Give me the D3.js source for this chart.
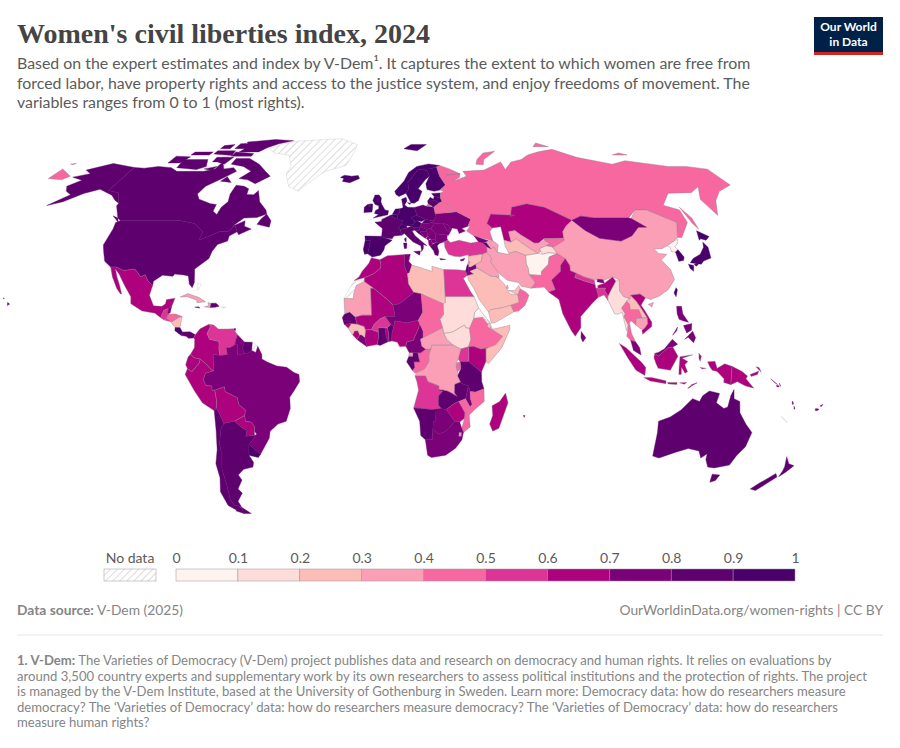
<!DOCTYPE html>
<html>
<head>
<meta charset="utf-8">
<script src="https://cdn.jsdelivr.net/npm/d3@7"></script>
<style>
  body { margin: 0; background: #fff; }
  text { font-family: Lato, "Noto Sans", sans-serif; }
</style>
</head>
<body>
<div class="chart"></div>
<script>
// index values, by region
var northAmerica = [["Canada", .85], ["USA", .85], ["Alaska", .85], ["Hawaii", .85], ["Mexico", .65], ["Guatemala", .55], ["Belize", .75], ["Honduras", .45], ["El Salvador", .55], ["Nicaragua", .25], ["Costa Rica", .92], ["Panama", .85], ["Cuba", .35], ["Haiti", .3], ["Dominican Rep", .8], ["Jamaica", .85], ["Trinidad", .85]];
var southAmerica = [["Colombia", .65], ["Venezuela", .55], ["Guyana", .75], ["Suriname", .85], ["Brazil", .78], ["Ecuador", .65], ["Peru", .65], ["Bolivia", .65], ["Paraguay", .65], ["Argentina", .85], ["Chile", .85], ["Uruguay", .92]];
var africa = [["Morocco", .65], ["Algeria", .65], ["Tunisia", .75], ["Libya", .25], ["Egypt", .55], ["Sudan", .12], ["South Sudan", .15], ["Eritrea", .05], ["Ethiopia", .45], ["Somalia", .25], ["Djibouti", .25], ["Kenya", .65], ["Uganda", .55], ["Tanzania", .85], ["DRC", .35], ["Rwanda", .45], ["Burundi", .45], ["Congo", .45], ["Gabon", .85], ["Eq Guinea", .3], ["Cameroon", .75], ["Nigeria", .65], ["Benin", .85], ["Togo", .65], ["Ghana", .85], ["Ivory Coast", .65], ["Liberia", .75], ["Sierra Leone", .65], ["Guinea", .25], ["Guinea-Bissau", .65], ["Senegal", .85], ["Gambia", .75], ["Mauritania", .35], ["Mali", .65], ["Burkina Faso", .55], ["Niger", .75], ["Chad", .45], ["CAR", .35], ["Angola", .55], ["Zambia", .8], ["Malawi", .75], ["Mozambique", .45], ["Zimbabwe", .65], ["Botswana", .78], ["Namibia", .85], ["South Africa", .78], ["Lesotho", .75], ["Eswatini", .3], ["Madagascar", .65], ["Mauritius", .85]];
var europe = [["Iceland", .92], ["Ireland", .92], ["UK", .9], ["Portugal", .92], ["Spain", .9], ["France", .88], ["Belgium", .92], ["Netherlands", .92], ["Germany", .93], ["Denmark", .95], ["Switzerland", .93], ["Austria", .9], ["Italy", .88], ["Czechia", .9], ["Slovakia", .85], ["Poland", .82], ["Hungary", .75], ["Slovenia", .88], ["Croatia", .85], ["Bosnia", .75], ["Serbia", .75], ["Montenegro", .75], ["Albania", .75], ["North Macedonia", .75], ["Greece", .82], ["Bulgaria", .78], ["Romania", .78], ["Moldova", .78], ["Ukraine", .75], ["Lithuania", .88], ["Latvia", .9], ["Estonia", .92], ["Norway", .93], ["Sweden", .93], ["Finland", .93], ["Cyprus", .85]];
var asia = [["Russia", .45], ["Belarus", .45], ["Kazakhstan", .65], ["Uzbekistan", .35], ["Turkmenistan", .25], ["Kyrgyzstan", .45], ["Tajikistan", .15], ["Afghanistan", .05], ["Pakistan", .45], ["China", .35], ["India", .65], ["Nepal", .55], ["Bhutan", .75], ["Bangladesh", .55], ["Sri Lanka", .75], ["Mongolia", .78], ["North Korea", .05], ["South Korea", .92], ["Japan", .95], ["Taiwan", .92], ["Myanmar", .15], ["Thailand", .45], ["Laos", .25], ["Cambodia", .35], ["Vietnam", .65], ["Malaysia", .75], ["Indonesia", .65], ["Philippines", .7], ["Timor-Leste", .75], ["Turkey", .52], ["Syria", .25], ["Lebanon", .35], ["Israel", .82], ["Jordan", .72], ["Iraq", .35], ["Iran", .35], ["Saudi Arabia", .25], ["Yemen", .22], ["Oman", .45], ["UAE", .25], ["Qatar", .3], ["Kuwait", .3], ["Georgia", .75], ["Armenia", .82], ["Azerbaijan", .35]];
var oceania = [["Australia", .85], ["New Zealand", .88], ["Papua New Guinea", .65], ["Solomon Islands", .75], ["Vanuatu", .8], ["Fiji", .75]];
var noData = ["Greenland", "Western Sahara", "French Guiana", "New Caledonia", "Puerto Rico", "Bahamas"];

var binEdges = [.1, .2, .3, .4, .5, .6, .7, .8, .9];
var binColors = ["#fff3ef", "#fddcd9", "#fcbdb8", "#fa9fb5", "#f768a1", "#dd3497", "#ae017e", "#7a0177", "#5f006f", "#49006a"];
var legendTicks = [0, .1, .2, .3, .4, .5, .6, .7, .8, .9, 1];

var subtitleLines = [
    "Based on the expert estimates and index by V-Dem\u00b9. It captures the extent to which women are free from",
    "forced labor, have property rights and access to the justice system, and enjoy freedoms of movement. The",
    "variables ranges from 0 to 1 (most rights)."
];
var footnoteLines = [
    "The Varieties of Democracy (V-Dem) project publishes data and research on democracy and human rights. It relies on evaluations by",
    "around 3,500 country experts and supplementary work by its own researchers to assess political institutions and the protection of rights. The project",
    "is managed by the V-Dem Institute, based at the University of Gothenburg in Sweden. Learn more: Democracy data: how do researchers measure",
    "democracy? The \u2018Varieties of Democracy\u2019 data: how do researchers measure democracy? The \u2018Varieties of Democracy\u2019 data: how do researchers",
    "measure human rights?"
];

// rough country outlines as "lon,lat" rings
var outlines = {
    "Greenland": ["-73,78 -60,82 -30,83.5 -18,80 -20,74 -22,70.5 -33,68 -42,62 -44,60 -50,62 -54,67 -53,70 -58,75 -68,76"],
    "Canada": ["-141,69.6 -135,69.3 -128,70 -120,69.5 -115,68 -108,68 -100,68 -95,69 -94,72 -90,69 -85,69.5 -82,68 -87,65 -93,62 -94.5,59 -92,57 -85,55.3 -82,55 -82,52.5 -79.5,51.3 -79,54 -77,56 -78,59 -77.5,62.4 -73,62 -70,61 -69.5,58.8 -66,58.7 -64.5,60.3 -61.5,56 -57,53 -56,51.5 -60,50.2 -66,50 -70,47 -65,49 -64.5,47 -61,46 -66,44 -67,45 -69,47.3 -71,45.2 -75,45 -79,43.4 -83,42 -82.5,45 -88,48 -95,49 -109,49 -123,49 -125,50 -130,54.5 -130,55.5 -135,59.5 -141,60.3",
        "-62,66 -68,63 -73,64.5 -78,65 -74,68 -80,70 -88,71 -88,73.5 -80,73.5 -72,71 -66,68",
        "-117,69.5 -105,68.7 -101,70 -104,73 -118,73", "-125,71.5 -118,71.5 -116,74.2 -125,74.5",
        "-90,76.5 -78,76.5 -75,78.5 -62,82.3 -75,83 -92,81.5 -88,79", "-92,74.5 -80,74.5 -80,75.7 -92,76.5",
        "-87,64 -81,63.5 -85,65.8", "-59,47.7 -53,46.7 -53,49 -56,51.5 -58,49.5", "-128,50.8 -123.5,48.4 -125,50",
        "-117,75 -106,75 -106,76.5 -117,76.4", "-100,72 -93,72 -93,74 -100,74", "-104,78 -98,78 -98,80 -104,79.5",
        "-97,72 -92,71 -90,74 -97,74", "-101,69 -96,68.3 -95,70", "-104,75.5 -92,74.8 -93,77 -104,77", "-95,78 -87,78 -87,81 -95,80.5"],
    "USA": ["-123,49 -109,49 -95,49 -88,48 -82.5,45 -83,42 -79,43.4 -75,45 -71,45.2 -69,47.3 -67,45 -70,43.5 -70,41.7 -74,40.5 -75.5,38 -76,35.5 -81,31.8 -80,27 -80.5,25.2 -82,26.5 -83,29.3 -85,29.7 -89,30 -89.5,29.2 -94,29.6 -97.3,27.5 -97.2,25.9 -99.5,27.5 -101.4,29.8 -103,29 -106.5,31.8 -111,31.3 -114.8,32.5 -117.1,32.5 -120.5,34.5 -122.5,37.5 -124.3,40.3 -124,46 -124.7,48.4"],
    "Alaska": ["-141,69.6 -141,60.3 -135,59.5 -130,55.5 -133,56.5 -137,58.5 -146,60.8 -152,59.2 -158,56 -164,54.6 -158,58.7 -162,60 -165,62 -161,64.4 -168,65.6 -161,67 -166,68.5 -156,71.3"],
    "Hawaii": ["-156,20 -155,19.4 -155.8,18.9 -156,19.7", "-158.3,21.6 -157.7,21.3 -158,21.2"],
    "Mexico": ["-117.1,32.5 -114.8,32.5 -111,31.3 -106.5,31.8 -103,29 -101.4,29.8 -99.5,27.5 -97.2,25.9 -97.8,22.5 -95.5,18.8 -92,18.6 -90.7,19.5 -90.5,21 -87,21.5 -88,18.5 -89.2,17.8 -91,17.2 -92,14.6 -94.5,16.2 -100,17 -105,19.5 -105.5,22 -109,26 -112.5,30 -114.7,31.7 -113,29 -111,26 -109.5,23 -110,23 -112,25 -115,29"],
    "Guatemala": ["-92,14.6 -91,17.2 -89.2,17.8 -89.2,15.9 -88.5,15.8 -89.5,14.3 -90.5,13.8"],
    "Belize": ["-89.2,17.8 -88,18.5 -88.3,16.3 -89.2,15.9"],
    "Honduras": ["-89.2,15.9 -88.5,15.8 -86,15.9 -83.2,15 -84.7,14.6 -87.3,13 -88.5,13.8 -89.5,14.3"],
    "El Salvador": ["-89.5,14.3 -88.5,13.8 -87.7,13.2 -90.5,13.8"],
    "Nicaragua": ["-83.2,15 -83.7,11 -85.7,11.1 -87.5,12.9 -84.7,14.6"],
    "Costa Rica": ["-83.7,11 -82.6,9.5 -83,8.3 -85.7,10 -85.7,11.1"],
    "Panama": ["-82.6,9.5 -79.5,9.6 -77.3,8.6 -78,7.4 -80,7.3 -81,8 -83,8.3"],
    "Cuba": ["-85,21.9 -82,23.1 -77,21.7 -74.2,20.2 -77.7,19.9 -78,20.8 -82,22"],
    "Haiti": ["-74.5,18.4 -72,18.2 -71.8,19.7 -73.2,19.9 -72.7,18.9"],
    "Dominican Rep": ["-71.8,19.7 -72,18.2 -70,18.3 -68.4,18.6 -69.8,19.7"],
    "Jamaica": ["-78.4,18.3 -76.2,18 -77,18.5"],
    "Puerto Rico": ["-67.2,18.5 -65.6,18.4 -66,18 -67.2,18"],
    "Bahamas": ["-78.5,26.8 -77,26.5 -77.5,25 -78.2,24.2"],
    "Trinidad": ["-61.9,10.1 -61,10.1 -61,10.8 -61.7,10.7"],
    "Colombia": ["-77.3,8.6 -75.5,10.7 -72,12.3 -71.3,11.5 -72.5,9 -71.5,7 -67.5,6.2 -67.5,3.5 -67,1.2 -69.8,1.7 -69.5,-4.2 -70.7,-3.7 -72,-2.4 -75,0 -77.5,0.4 -79,1.7 -77.5,4 -77.5,7 -78,7.4"],
    "Venezuela": ["-71.3,11.5 -72,12.3 -70,12 -68,10.6 -64,10.6 -62,10.7 -60,8.5 -60.7,6.8 -61,5 -63,4 -64.5,4 -64,1.5 -67,1.2 -67.5,3.5 -67.5,6.2 -71.5,7 -72.5,9"],
    "Guyana": ["-60,8.5 -57.2,6 -58,4 -57,2 -59.8,1.3 -60,5 -61,5 -60.7,6.8"],
    "Suriname": ["-57.2,6 -54,5.9 -54.2,3 -55.5,2.1 -57,2 -58,4"],
    "French Guiana": ["-54,5.9 -51.7,4.5 -52.5,2.3 -54.2,3"],
    "Brazil": ["-60,5 -59.8,1.3 -57,2 -55.5,2.1 -54.2,3 -52.5,2.3 -51.7,4.5 -50,1.5 -50,0 -48,-1 -44,-2.5 -40,-2.9 -37,-4.8 -35,-5.5 -34.8,-8 -37,-11 -39,-13.5 -39,-17.5 -41,-22 -44.5,-23 -48,-25.5 -48.7,-28 -53.4,-33.7 -57.6,-30.2 -53.7,-26.6 -54.5,-25.5 -54.3,-24 -55.5,-22.3 -57.9,-22 -58,-20 -57.5,-18 -60,-16.2 -60.5,-13.7 -65.3,-11.5 -65.5,-9.8 -69.5,-11 -70.6,-11 -70.6,-9.5 -73,-9.4 -74,-7.3 -73,-5 -70,-4.2 -69.5,-4.2 -69.8,1.7 -67,1.2 -64,1.5 -64.5,4 -63,4 -61,5"],
    "Ecuador": ["-79,1.7 -77.5,0.4 -75,0 -75.5,-1.5 -78.5,-4.5 -80.3,-3.4 -81,-2 -80,0.7"],
    "Peru": ["-80.3,-3.4 -78.5,-4.5 -75.5,-1.5 -75,0 -72,-2.4 -70.7,-3.7 -69.5,-4.2 -70,-4.2 -73,-5 -74,-7.3 -73,-9.4 -70.6,-9.5 -70.6,-11 -69.5,-11 -69,-15 -69.5,-17.5 -70.4,-18.3 -75,-15.5 -78,-11 -81.3,-5.5"],
    "Bolivia": ["-69.5,-11 -65.5,-9.8 -65.3,-11.5 -60.5,-13.7 -60,-16.2 -57.5,-18 -58,-20 -62.5,-22 -67,-22.8 -68.5,-19 -69.5,-17.5 -69,-15"],
    "Paraguay": ["-62.5,-22 -58,-20 -57.9,-22 -55.5,-22.3 -54.3,-24 -54.5,-25.5 -54.7,-27 -58.5,-27.3 -57.7,-25.3 -60,-24"],
    "Argentina": ["-67,-22.8 -62.5,-22 -60,-24 -57.7,-25.3 -58.5,-27.3 -54.7,-27 -53.7,-26.6 -57.6,-30.2 -58.4,-34 -57,-36.5 -57.7,-38.2 -62,-39 -65,-41 -64,-42.8 -67,-46 -65.7,-47.5 -69,-50.5 -68.5,-52.3 -71.5,-52 -72.3,-50 -71.5,-44 -71.5,-39 -70,-34 -70,-30 -68.5,-25", "-68.6,-52.6 -65,-55 -68.6,-55"],
    "Chile": ["-69.5,-17.5 -68.5,-19 -67,-22.8 -68.5,-25 -70,-30 -70,-34 -71.5,-39 -71.5,-44 -72.3,-50 -71.5,-52 -68.5,-52.3 -71,-54 -74.5,-52 -75.5,-47 -73.5,-42 -73.5,-37 -71.5,-32 -70.5,-25 -70.4,-18.3", "-68.6,-52.6 -68.6,-55 -72,-54"],
    "Uruguay": ["-57.6,-30.2 -53.4,-33.7 -54.5,-34.8 -58.4,-34"],
    "Morocco": ["-5.9,35.8 -2.2,35.1 -1.7,33 -2,32 -5,30 -8.7,28.7 -13,27.7 -11,29 -9.7,31 -7,33.7"],
    "Western Sahara": ["-8.7,27.7 -13,27.7 -17,21.4 -13,21.3 -13,23 -12,26"],
    "Algeria": ["-2.2,35.1 1,36.5 8.6,36.9 8.3,33 9.5,30.2 9.9,26.5 12,23.5 6,19.5 3.3,19 1,21 -4.8,25 -8.7,27.3 -8.7,28.7 -5,30 -2,32 -1.7,33"],
    "Tunisia": ["8.6,36.9 11,37 10.2,34.5 11.5,33.2 10.3,30.5 9.5,30.2 8.3,33"],
    "Libya": ["11.5,33.2 15,32.3 20,30.9 20,32.8 25,31.6 25,20 24,19.5 15,23 12,23.5 9.9,26.5 9.5,30.2 10.3,30.5"],
    "Egypt": ["25,31.6 31,31.5 34.3,31.2 34.8,29.5 33,28.5 35.5,24 37,22 25,22"],
    "Sudan": ["25,22 37,22 38.6,18 36.9,16.5 36.4,14.3 34.5,10.8 33,11 32.5,12 27.5,9.5 24,9 23.5,11 22.5,14 24,15.7 24,19.5 25,20"],
    "South Sudan": ["24,9 27.5,9.5 32.5,12 33,11 34.5,10.8 35,7 34,4.3 30.8,3.5 27.5,5 25,7"],
    "Eritrea": ["36.4,14.3 36.9,16.5 38.6,18 43,12.7 40,14.7 37,14.4"],
    "Ethiopia": ["36.4,14.3 37,14.4 40,14.7 42.8,11.6 42.9,10.9 48,8 45,5 41.9,4 39,3.5 36,4.5 34,4.3 35,7 34.5,10.8"],
    "Somalia": ["43.3,11.5 44,10.5 51,11.9 51,10.5 47.5,4 42,-1.7 41,-0.9 41,3.9 41.9,4 45,5 48,8 42.9,10.9"],
    "Djibouti": ["43,12.7 43.3,11.5 42.9,10.9 41.8,11.2 42,12.5"],
    "Kenya": ["34,4.3 36,4.5 39,3.5 41.9,4 41,3.9 41,-0.9 39.2,-4.7 34,-1 34,1"],
    "Uganda": ["30.8,3.5 34,4.3 34,1 34,-1 30.5,-1 29.7,0"],
    "Tanzania": ["30.5,-1 34,-1 39.2,-4.7 39.4,-8 40.4,-10.5 37,-11.7 34.8,-11.5 34,-9.5 31,-8.6 29.5,-6 30.8,-3.5"],
    "DRC": ["18.6,3.5 19,5 25,5 27.5,5 30.8,3.5 29.7,0 29,-1.4 29,-2.8 29.5,-4.4 29.5,-6 31,-8.6 30.7,-8.2 28.5,-9 28.5,-12 29.8,-13.4 27,-12 25.3,-11.3 22,-11 22,-9.5 17.5,-8 16.5,-6 12.2,-6 13,-4.7 16,-3.5 17.8,-1 17.8,1.5"],
    "Rwanda": ["29,-1.4 30.5,-1 30.8,-2.3 29,-2.8"],
    "Burundi": ["29,-2.8 30.8,-2.3 30.8,-3.5 29.5,-4.4"],
    "Congo": ["11.1,-4 12.2,-5 13,-4.7 16,-3.5 17.8,-1 17.8,1.5 18.6,3.5 16.5,3.5 14.5,2.2 13.2,2.2 14,-1 11.7,-1 12,-3"],
    "Gabon": ["9.7,1 11.3,1 11.3,2.3 13.2,2.2 14,-1 11.7,-1 12,-3 11.1,-4 8.8,-1"],
    "Eq Guinea": ["9.7,1 11.3,1 11.3,2.3 9.8,2.3"],
    "Cameroon": ["8.5,4.5 9.8,2.3 11.3,2.3 13.2,2.2 14.5,2.2 16.5,3.5 15,4.5 14.4,7 15.5,7.5 15.5,9.9 14.2,12.5 13.7,10.9 11.5,6.6 8.8,6"],
    "Nigeria": ["2.7,6.4 5,5.9 6,4.3 8.5,4.5 8.8,6 11.5,6.6 13.7,10.9 14.2,12.5 13.6,13.7 9,12.8 4,13.5 3.6,11.7 2.8,9"],
    "Benin": ["1.6,6.2 2.7,6.4 2.8,9 3.6,11.7 2.4,12.2 0.9,11 1.5,9"],
    "Togo": ["1.2,6.1 1.6,6.2 1.5,9 0.9,11 -0.1,11 0.4,8"],
    "Ghana": ["-3.1,5.1 -2,4.8 1.2,6.1 0.4,8 -0.1,11 -2.8,11 -2.6,8"],
    "Ivory Coast": ["-7.5,4.4 -3.1,5.1 -2.6,8 -2.8,9.5 -5.5,10.4 -8,10.3 -8.2,7.6"],
    "Liberia": ["-11.4,6.9 -7.5,4.4 -8.2,7.6 -9.5,8.5 -10.3,8.5"],
    "Sierra Leone": ["-13.2,8.5 -11.4,6.9 -10.3,8.5 -11,10 -12.5,9.9"],
    "Guinea": ["-15,10.8 -13.2,8.5 -12.5,9.9 -11,10 -10.3,8.5 -9.5,8.5 -8.2,7.6 -8,10.3 -8.5,11.5 -11,12.2 -13.7,12.6"],
    "Guinea-Bissau": ["-16.7,12.3 -13.7,12.6 -15,10.9"],
    "Senegal": ["-17.5,14.7 -16.5,16 -14.5,16.6 -12.2,14.8 -11.5,12.4 -13.7,12.6 -16.7,12.3"],
    "Gambia": ["-16.8,13.6 -14,13.6 -14,13.2 -16.8,13.2"],
    "Mauritania": ["-17,21.4 -13,21.3 -13,23 -12,26 -8.7,27.3 -4.8,25 -6,25 -5.5,15.5 -9.3,15.5 -12.2,14.8 -14.5,16.6 -16.5,16"],
    "Mali": ["-12.2,14.8 -9.3,15.5 -5.5,15.5 -6,25 -4.8,25 1,21 3.3,19 4.2,15 0.2,15 -2,14.2 -4.5,12.2 -5.5,10.4 -8,10.3 -8.5,11.5 -11.5,12.4"],
    "Burkina Faso": ["-5.5,10.4 -2.8,9.5 -2.8,11 -0.1,11 0.9,11 2.4,12.2 0.2,15 -2,14.2 -4.5,12.2"],
    "Niger": ["0.2,15 2.4,12.2 3.6,11.7 4,13.5 9,12.8 13.6,13.7 15.5,16.5 15,23 12,23.5 6,19.5 3.3,19 4.2,15"],
    "Chad": ["14.2,12.5 15.5,9.9 15.5,7.5 19,9 23.5,11 22.5,14 24,15.7 24,19.5 15,23 15.5,16.5 13.6,13.7"],
    "CAR": ["14.4,7 15,4.5 16.5,3.5 18.6,3.5 19,5 25,5 27.5,5 25,7 24,9 23.5,11 19,9 15.5,7.5"],
    "Angola": ["12.2,-6 16.5,-6 17.5,-8 22,-9.5 22,-11 24,-11 22,-13 22,-16.3 23.4,-17.6 20,-17.9 13.5,-17.4 11.8,-17.3 13.7,-11 13,-8"],
    "Zambia": ["22,-11 25.3,-11.3 27,-12 29.8,-13.4 28.5,-12 28.5,-9 30.7,-8.2 31,-8.6 34,-9.5 33,-14 30.2,-15 28,-16 25.3,-17.8 23.4,-17.6 22,-16.3 22,-13 24,-11"],
    "Malawi": ["34,-9.5 34.8,-11.5 35,-14 35.8,-16 35,-17 33,-14"],
    "Mozambique": ["40.4,-10.5 40.7,-15 37,-17.8 34.8,-19.8 35.5,-24 32.8,-26 32,-24.5 32.9,-21 33,-19 30.2,-15 33,-14 35,-17 35.8,-16 35,-14 34.8,-11.5 37,-11.7"],
    "Zimbabwe": ["25.3,-17.8 28,-16 30.2,-15 33,-19 32.9,-21 31,-22.3 29,-22 27.5,-20.5"],
    "Botswana": ["20,-17.9 23.4,-17.6 25.3,-17.8 27.5,-20.5 29,-22 26.5,-24.6 25,-25.7 22.5,-26.5 20,-24.8 20,-22 21,-22 21,-18.3"],
    "Namibia": ["11.8,-17.3 13.5,-17.4 20,-17.9 23.4,-17.6 21,-18.3 21,-22 20,-22 20,-28.4 17,-28.5 15,-27 14.4,-22"],
    "South Africa": ["17,-28.5 20,-28.4 20,-24.8 22.5,-26.5 25,-25.7 26.5,-24.6 29,-22 31,-22.3 32,-24.5 32.8,-26 32.4,-28.5 30,-31.5 26,-34 20,-34.8 18.3,-34"],
    "Lesotho": ["27,-29.6 29,-28.7 29.4,-29.8 28,-30.6"],
    "Eswatini": ["31,-26 32,-26 32,-27.3 31,-27.3"],
    "Madagascar": ["49.3,-12 50.5,-15.5 47.5,-24.5 45,-25.5 43.5,-23 44.5,-20 44,-16.5 47,-15"],
    "Mauritius": ["57.2,-20 57.9,-20 57.6,-20.6"],
    "Iceland": ["-24,65.5 -22,66.4 -18,66 -14.5,66.3 -13.6,65 -18.5,63.4 -22.5,63.9 -22,65"],
    "Ireland": ["-10,52 -6.2,52.2 -6,53.5 -6,54 -8,54.3 -7,55.2 -8.5,55 -10,54"],
    "UK": ["-5.5,50 1.3,51.2 1.7,52.7 0,53 -1.5,55 -2,56 -1.8,57.5 -3,58.6 -5,58.6 -6,56.5 -4.8,55 -3,54.5 -3,53.4 -4.5,52.8 -5,51.7 -3,51.3", "-6,55.2 -6,54 -8,54.3 -7,55.2"],
    "Portugal": ["-9.5,38.7 -8.9,37 -7.5,37.2 -7,39.5 -6.5,41.8 -8.8,42"],
    "Spain": ["-8.8,42 -6.5,41.8 -7,39.5 -7.5,37.2 -5.5,36 -2,36.7 -0.5,38.5 0,40 3.2,42 0,42.8 -2,43.4 -9,43.5"],
    "France": ["-1.5,43.4 -2,43.4 0,42.8 3.2,42.5 4,43.5 7.5,43.8 7,45.8 6,46.3 7.5,47.6 8.2,49 4.5,50 2.5,51 1.6,50.7 -1.5,49.5 -1.6,48.7 -4.7,48.5 -1.2,46.2", "8.6,42.4 9.5,43 9.4,41.4 9,41.6"],
    "Belgium": ["2.5,51 4.5,51.4 5.9,51 5.8,49.6 4.5,50"],
    "Netherlands": ["3.5,51.4 4.5,51.4 5.9,51 7,52.2 7,53.4 5,53.3"],
    "Germany": ["7,53.4 7,52.2 5.9,51 5.8,49.6 8.2,49 7.5,47.6 10,47.4 13,47.6 13.8,48.7 12.2,50.2 15,51 14.2,53.9 11,54 9.5,54.8 8.6,54.9 8.7,53.8"],
    "Denmark": ["8.6,54.9 9.5,54.8 10.8,56.3 10.5,57.7 8.2,57", "11,55.7 12.5,55.6 12.2,55"],
    "Switzerland": ["6,46.3 7,45.8 10,46.4 10,47.4 7.5,47.6"],
    "Austria": ["9.5,47.3 12,47 13.5,46.5 16,46.8 17,48 15,49 13.8,48.7 13,47.6 10,47.4"],
    "Italy": ["7.5,43.8 8.8,44.4 10.5,43 12.5,41.4 15.8,40 16,38 16.8,39 17,40.5 18.5,40 16,41.8 13.5,43.6 12.3,45.3 13.7,45.7 13.5,46.5 12,47 10,46.4 7,45.8", "12.5,38 15.5,38.2 15,36.7", "8.2,41 9.7,41 9.5,39.1 8.5,39"],
    "Czechia": ["12.2,50.2 13.8,48.7 15,49 17,48.7 18.8,49.5 15,51"],
    "Slovakia": ["17,48 18.8,49.5 22.5,49 22,48.4 18.7,47.9"],
    "Poland": ["14.2,53.9 15,51 18.8,49.5 22.5,49 24,50.5 23.7,52.5 23.5,54 19.5,54.4 18.5,54.8"],
    "Hungary": ["16,46.8 17,48 18.7,47.9 22,48.4 22.9,48 21,46.2 18.8,45.9"],
    "Slovenia": ["13.5,46.5 16,46.8 15.5,45.6 13.7,45.5"],
    "Croatia": ["13.7,45.5 15.5,45.6 16,46.8 18.8,45.9 19,45 15.9,45 18,42.7 15,44.5"],
    "Bosnia": ["15.9,45 19,45 19.3,43.5 18,42.7"],
    "Serbia": ["18.8,45.9 21,46.2 22.7,44.3 22.4,42.3 20.6,42.2 19.3,43.5 19,45"],
    "Montenegro": ["18.5,42.5 19.3,43.5 20.2,42.8 19.3,42"],
    "Albania": ["19.3,42 20.5,42.2 21,40.6 20,39.7 19.4,40.4"],
    "North Macedonia": ["20.5,42.2 22.4,42.3 23,41.3 21,40.9"],
    "Greece": ["20,39.7 21,40.6 23,41.3 26.3,41.5 24,40.8 23,40 23.5,38 23,36.5 21.7,36.8 21.2,38.3", "23.6,35.5 26.2,35.2 24,35"],
    "Bulgaria": ["22.4,42.3 22.7,44.3 28,43.8 27.7,42.5 28,42 26.3,41.5 23,41.3"],
    "Romania": ["21,46.2 22.9,48 26.6,48.2 28.2,45.5 29.6,45 28.6,43.8 22.7,44.3"],
    "Moldova": ["26.6,48.2 29,47.5 30,46.3 28.2,45.5"],
    "Ukraine": ["22.1,48.4 22.5,49 24,50.5 23.7,51.6 31,52 34,52.3 40,49.6 38,47 35,46.2 36.5,45.3 33.5,44.4 33,46 30.7,46.4 29.6,45 28.2,45.5 30,46.3 29,47.5 26.6,48.2 22.9,48"],
    "Lithuania": ["21,55.2 23.5,54 26.6,55.7 25,56.4 21,56.3"],
    "Latvia": ["21,56.3 25,56.4 26.6,55.7 28,56.1 27.5,57.6 24.5,58 24,57 22.5,57.7"],
    "Estonia": ["23.5,59.2 28,59.4 27.5,57.6 24.5,58"],
    "Norway": ["5,60 5.5,58.8 7,58 10.6,59.3 12.2,61 12,63.5 14.5,65.5 18,68.5 21,69 25,69 29,69.8 31,70.4 25,71.1 18,70 13,67.5 10,64", "12,78 20,77 27,80 17,80"],
    "Sweden": ["10.6,59.3 12.7,55.6 14.3,55.5 16.5,56.5 18.8,60 17,61 21.4,64.5 24,66 23.5,68 21,69 18,68.5 14.5,65.5 12,63.5 12.2,61"],
    "Finland": ["21,69 23.5,68 24,66 21.4,63 21.5,60.7 25,60 28,60.5 31.5,62.5 29.5,66 29,69.8 25,69"],
    "Cyprus": ["32.3,35 34.5,35.6 33.8,34.8 32.8,34.6"],
    "Russia": ["31,70.4 29,69.8 29.5,66 31.5,62.5 28,60.5 30,60 28,59.4 27.5,57.6 28,56.1 31,55 32.7,53.4 31,52 34,52.3 40,49.6 38,47 39,47 37,45.3 40,43.5 48,41.8 47.5,45 49,46.4 47,48 50,51.5 61,51 59,50.6 61,54 69,55.3 77,54 87,49.2 92,50.7 98,50 107,50 114,50 119.7,53 125,53 135,48.4 131,43 133,43 140,48.4 141,53 135,54.7 143,59.3 155,59.5 162,61.8 156,57 156.8,51 163,56.5 170,60 179.9,62.5 179.9,68.9 170,70 160,70 140,72.5 130,71 114,74 105,77.7 86,75 80,73 73,72 67,68.7 67,72 55,68.5 43,68 44,66 36,64 40,65.5 41,67 33,66.5 41,67 36,69",
        "-180,65 -172,64.5 -170,66 -180,69", "52,71 56,70.7 58,73 68,76.8 60,76 54,73", "142,54 143.5,50 143,46 142,48", "20,54.4 22.7,54.4 21,55.2", "95,79 105,79 100,81", "137,75 146,75 143,76", "-179.9,71 -177.5,71.4 -178,70.8"],
    "Belarus": ["23.7,51.6 31,52 32.7,53.4 31,55 28,56.1 26.6,55.7 23.5,54 23.7,52.5"],
    "Kazakhstan": ["47,48 49,46.4 53,46.8 53,42 56,41.3 56,45 59,45.5 61,44 66,41 68,41 71,42.5 80,42.7 80.5,45 83,47 87,49.2 77,54 69,55.3 61,54 59,50.6 61,51 50,51.5"],
    "Uzbekistan": ["56,45 56,41.3 58.5,42.5 62,40 66.5,37.3 68,38 67.8,39 71,40 73,40.8 71,42 68,41 66,41 61,44 59,45.5"],
    "Turkmenistan": ["53,42 52.9,40 53.9,37.3 57,38 61,36.6 64.5,37 66.5,37.3 62,40 58.5,42.5 56,41.3"],
    "Kyrgyzstan": ["71,42.5 71,42 73,40.8 71,40 74,39.5 80,42 80,42.7"],
    "Tajikistan": ["67.8,39 68,38 68.5,37 71,37.5 75,37.3 74,39.5 71,40"],
    "Afghanistan": ["61,36.6 64.5,37 66.5,37.3 68.5,37 71,37.5 75,37.3 71,36 70,33.5 66.5,31 66,29.5 60.9,29.8 61,32 60.5,33.7"],
    "Pakistan": ["61,25 66.5,25.4 68,23.7 71,24.5 70,27.9 74.5,31 75,33 77.8,35.5 75,37.3 71,36 70,33.5 66.5,31 66,29.5 60.9,29.8 63,27"],
    "China": ["73.6,39.5 74,39.5 80,42 80,42.7 80.5,45 83,47 87,49.2 91,45.5 96,42.7 105,41.7 111,43.6 116,46.7 119.7,46.7 115,49.8 119.7,53 125,53 135,48.4 131,43 128,41.5 124.3,40 121.5,39 118,39 119,37.3 122.5,37 119,35 121.5,31.5 121.8,28 118,24.5 114,22.3 110,21 108,21.6 106,23 102,22.5 101.5,21.2 99,22 97.7,24 98.5,28 96,29 92,27.8 88,28 84,29 81,30.3 78.7,31.2 79,33 77.8,35.5 75,37.3", "108.7,19.3 111,20 110,18.3"],
    "India": ["68,23.7 72,21 73,16 76,10 77.5,8 80,11 80.3,15 86,20 88.5,21.8 89,26 92,26.8 96,29 97,27.5 94,24 92.5,22 91.5,24.2 92,25 88,25 88,26.4 84,27.5 80,28.8 81,30.3 78.7,31.2 79,33 77.8,35.5 75,33 74.5,31 70,27.9 71,24.5"],
    "Nepal": ["80,28.8 84,27.5 88,26.4 88,27.9 84,29 81,30.3"],
    "Bhutan": ["89,27.3 92,26.8 91.7,28 89.5,28.2"],
    "Bangladesh": ["88,25 88.3,24 88.5,21.8 91,22.6 92.3,20.7 92.5,22.5 91.5,24.2 92,25"],
    "Sri Lanka": ["80,9.7 81.8,7.5 80.5,6 79.8,7.5"],
    "Mongolia": ["87,49.2 92,50.7 98,50 107,50 114,50 115,49.8 119.7,46.7 116,46.7 111,43.6 105,41.7 96,42.7 91,45.5"],
    "North Korea": ["124.3,40 128,41.5 130.7,42.4 129.7,41 127.5,39.7 128.3,38.6 126.7,37.8 125,38 125.3,39.5"],
    "South Korea": ["126.7,37.8 128.3,38.6 129.4,36 128.5,34.8 126.3,34.5"],
    "Japan": ["131,34 133,35.5 137,37 140,39.5 141,41.3 142,39.5 140.8,35.7 137,34.6 135.5,33.5", "130,33.5 132,33 131,31 130,32", "132.5,33.5 134.5,34 134,33.3 132.9,32.8", "140,42 141.5,45.4 145.4,43.3 143,42 141,42.5"],
    "Taiwan": ["120.2,23.3 121.5,25.2 121.9,24.5 120.8,22"],
    "Myanmar": ["92.3,20.7 94.3,16 95.5,15.8 97.5,16.5 98.5,10 99.5,12 98,15 98.7,16 97.5,18 100,20.4 101,21.5 99,22 97.7,24 98.5,28 97,27.5 94,24 92.5,22"],
    "Thailand": ["97.5,18 98.7,16 98,15 99.5,12 98.5,8 100,6.5 102,6 100.5,9 100,13 100.9,13.4 102.5,12 103,14.3 105.5,14.4 104.5,17.5 101,17.5 101,19.5 100,20.4"],
    "Laos": ["100,20.4 101,19.5 101,17.5 104.5,17.5 105.5,14.4 107.5,14.7 105,18.8 104,20.4 102,22.5 101.5,21.2"],
    "Cambodia": ["103,14.3 102.5,12 104.5,10.5 106.2,11 107.5,12.5 107.5,14.7 105.5,14.4"],
    "Vietnam": ["102,22.5 106,23 108,21.6 105.7,19 107,17 109.2,13 109,11.5 105,8.7 104.8,10.2 106.2,11 107.5,12.5 107.5,14.7 105,18.8 104,20.4"],
    "Malaysia": ["100,6.5 102,6 103.5,4 104,1.4 101,3", "109.6,2 111,1 115,4 117,4.2 119,5.2 117,7 113.5,3.5 111,2.3"],
    "Indonesia": ["95.3,5.5 98,4 104,-1 106,-3 105.7,-5.8 102,-4 98.5,0.5", "105.3,-6.5 108.5,-6.5 114.5,-7.7 114.5,-8.7 108,-7.8", "109.2,0.5 109.6,2 111,1 115,4 117,4.2 119,1 116,-4 111,-3.3 110,-1.5", "119.8,0.8 125,1.5 120.7,0.3 123,-0.9 121.8,-2 123,-4.5 122,-5 120.5,-3 120.5,-5.5 119.5,-5.5 119.5,-3", "131,-1 134,-0.8 135,-3.3 138,-1.7 141,-2.6 141,-9.1 138,-8.3 138,-7 135,-4.4 133,-4 132,-2.8", "115,-8.3 119,-8.3 119,-9 115.5,-8.8", "120,-8.4 123,-8.3 122,-8.9", "123.5,-10.3 125,-9.1 125,-9.6 124,-10.3", "127.5,2 128.5,1 128,-0.8 127.5,0", "128,-3 130.5,-3.3 129,-3.5"],
    "Timor-Leste": ["125,-9.1 127.2,-8.4 125.2,-9.4"],
    "Philippines": ["120.3,18.6 122.3,18.6 122.3,16 124.2,13 122,13.5 120.5,14 120,16", "122,7 125.5,9.8 126.5,7.5 125.5,5.7 123.5,7.7", "122,11.8 125.5,12.5 125,10.2 123,9.2", "117.2,8.4 119.5,11.3 119,10"],
    "Papua New Guinea": ["141,-2.6 145,-4.3 147.5,-6 147,-7 150.5,-10.3 147,-9.5 143.5,-8 141,-9.1", "148.5,-5.5 152,-4.2 151.5,-5.5 149,-6.2", "150.7,-2.7 153,-4.7 152,-3"],
    "Solomon Islands": ["157,-7 160,-9 159,-8.5", "159.6,-9.3 160.8,-9.5 160.6,-9.9 159.8,-9.8", "160.7,-8.5 161.4,-9.7 161,-9.2"],
    "Vanuatu": ["167,-15 167.3,-16 167.8,-16 167.3,-15", "168.2,-16.7 168.5,-17.8 168.8,-17.5"],
    "Fiji": ["177.3,-17.5 178.7,-17.7 178.4,-18.2 177.3,-18.2", "178.8,-16.6 179.9,-16 179.5,-16.8"],
    "New Caledonia": ["164,-20.2 167,-22.3 166.5,-22.3 164,-20.5"],
    "Australia": ["113.5,-22 114,-26 115,-34.3 118,-35 124,-33 129,-31.6 134,-32.5 136,-35 138,-33.5 138.5,-35.5 141,-38.2 144,-38.5 147,-38 150,-37.5 151,-34 153,-31 153.5,-26 150,-23 146.5,-19 145.5,-15 143,-14 142.5,-10.8 141.5,-13 141,-17 139.5,-17.5 136,-15.5 136.8,-12.2 132.5,-11.3 130,-13 129,-15 126,-14 122,-18 118,-20.5", "144.7,-40.7 148.3,-41 148,-43 146,-43.6"],
    "New Zealand": ["172.7,-34.5 175.5,-37 178.3,-37.7 176.5,-40 175,-41.6 174.8,-39.5 174.5,-38", "172.7,-40.5 174.3,-41.7 171.5,-44.5 169.5,-46.6 166.5,-46 168.5,-44"],
    "Turkey": ["26.3,41.5 28,42 29,41.2 33,42 38,41 41.5,41.5 43.5,41 44.8,39.7 44.5,37.7 42.4,37 39,36.7 36.5,36.3 36,36.8 32.5,36.1 30,36.3 27.5,37 26.3,39.5"],
    "Syria": ["36,36.8 36.5,36.3 39,36.7 42.4,37 41.4,34.5 38.8,33.4 36.6,32.4 35.8,33.3 36,35"],
    "Lebanon": ["35.1,33.1 35.8,33.3 36.6,34.2 36,34.6"],
    "Israel": ["34.3,31.2 34.9,29.5 35.4,31.5 35.7,33.3 35.1,33.1"],
    "Jordan": ["34.9,29.5 37.5,30 36,31 39,32 38.8,33.4 36.6,32.4 35.6,32.6 35.4,31.5"],
    "Iraq": ["42.4,37 44.5,37.7 46,35.7 45.5,34 48,30.8 48,29.9 47,29.1 44.7,29.2 39.2,32.1 38.8,33.4 41.4,34.5"],
    "Iran": ["44.8,39.7 48,39.6 49,37.7 54,36.9 53.9,37.3 57,38 61,36.6 60.5,33.7 61,32 60.9,29.8 63,27 61,25 57,25.7 56,27 51.5,27.8 48.5,30 48,30.8 45.5,34 46,35.7 44.5,37.7"],
    "Saudi Arabia": ["34.9,29.5 37.5,30 36,31 39,32 39.2,32.1 44.7,29.2 47,29.1 48.5,28 50,26.5 51,24.5 52,23 55.2,22.7 55.5,20 52,19 48.7,18.2 43.5,17.4 42.6,16.5 39,21 37,25 35,28"],
    "Yemen": ["42.6,16.5 43.5,17.4 48.7,18.2 52,19 53,16.7 45,12.8 43.5,12.7"],
    "Oman": ["52,19 55.5,20 55.2,22.7 56.3,24.8 58.7,23.6 59.8,22.5 57.8,19 55,17 53,16.7"],
    "UAE": ["51.5,24.2 55.2,22.7 56.3,24.8 56,26 54,24.2"],
    "Qatar": ["50.8,24.8 51.5,25 51.3,26.1 50.8,25.8"],
    "Kuwait": ["47,29.1 48.2,29.6 48,28.6 47.5,28.6"],
    "Georgia": ["40,43.5 46,41.8 43.5,41 41.5,41.5"],
    "Armenia": ["43.5,41 45,41.2 46.5,39 44.8,39.7"],
    "Azerbaijan": ["45,41.2 46,41.8 48,41.8 50,40.4 49,37.7 48,39.6 46.5,39"]
};

var svgWidth = 900;
var svgHeight = 748;

var svg = d3.select(".chart")
    .append("svg")
    .attr("width", svgWidth)
    .attr("height", svgHeight);

// hatch for no data
var hatch = svg.append("defs").append("pattern")
    .attr("id", "hatch")
    .attr("width", 5)
    .attr("height", 5)
    .attr("patternUnits", "userSpaceOnUse")
    .attr("patternTransform", "rotate(-45)");
hatch.append("line")
    .attr("x1", 0).attr("y1", 0).attr("x2", 5).attr("y2", 0)
    .attr("stroke", "#c4c4c4")
    .attr("stroke-width", 1.2);

// Robinson lookup table, every 5 degrees of latitude
var robinsonX = [1, .9986, .9954, .99, .9822, .973, .96, .9427, .9216, .8962, .8679, .835, .7986, .7597, .7186, .6732, .6213, .5722, .5322];
var robinsonY = [0, .062, .124, .186, .248, .31, .372, .434, .4958, .5571, .6176, .6769, .7346, .7903, .8435, .8936, .9394, .9761, 1];

function robinsonRaw(lambda, phi) {
    var deg = Math.abs(phi) * 180 / Math.PI / 5;
    var i = Math.min(Math.floor(deg), 17);
    var t = deg - i;
    var px = robinsonX[i] + (robinsonX[i + 1] - robinsonX[i]) * t;
    var py = robinsonY[i] + (robinsonY[i + 1] - robinsonY[i]) * t;
    // x factor nudged from 0.8487 to line up with the reference
    return [0.836 * px * lambda, 1.3523 * py * (phi < 0 ? -1 : 1)];
}

var projection = d3.geoProjection(robinsonRaw)
    .scale(168.8)
    .translate([385, 359]);

var path = d3.geoPath(projection);

var color = d3.scaleThreshold()
    .domain(binEdges)
    .range(binColors);

// borders are faint on the dark classes and grey on the light ones
function borderColor(v) {
    return v >= .7 ? d3.interpolateRgb(color(v), "#777")(.12) : "#8c7f8a";
}

function toGeometry(rings) {
    var polygons = rings.map(function(ring) {
        var coords = ring.split(" ").map(function(p) {
            return p.split(",").map(Number);
        });
        coords.push(coords[0]);
        // hand drawn rings can wind either way, d3 wants the small side
        if (d3.geoArea({ type: "Polygon", coordinates: [coords] }) > 2 * Math.PI) coords.reverse();
        return [coords];
    });
    return { type: "MultiPolygon", coordinates: polygons };
}

var mapGroup = svg.append("g");

mapGroup.selectAll(".nodata")
    .data(noData)
    .enter()
    .append("path")
    .attr("class", "nodata")
    .attr("d", function(d) { return path(toGeometry(outlines[d])); })
    .attr("fill", "url(#hatch)")
    .attr("stroke", "#d0d0d0")
    .attr("stroke-width", 0.5);

var allValues = northAmerica.concat(southAmerica, africa, europe, asia, oceania);

mapGroup.selectAll(".country")
    .data(allValues)
    .enter()
    .append("path")
    .attr("class", "country")
    .attr("d", function(d) { return path(toGeometry(outlines[d[0]])); })
    .attr("fill", function(d) { return color(d[1]); })
    .attr("stroke", function(d) { return borderColor(d[1]); })
    .attr("stroke-width", 0.4)
    .attr("stroke-linejoin", "round");

// header
svg.append("text")
    .attr("x", 17)
    .attr("y", 43)
    .style("font-family", "'Liberation Serif', serif")
    .style("font-weight", 700)
    .style("font-size", "28px")
    .attr("fill", "#444")
    .text("Women's civil liberties index, 2024");

svg.selectAll(".subtitle")
    .data(subtitleLines)
    .enter()
    .append("text")
    .attr("class", "subtitle")
    .attr("x", 17)
    .attr("y", function(d, i) { return 69 + i * 19.6; })
    .style("font-size", "15.9px")
    .attr("fill", "#5b5b5b")
    .text(function(d) { return d; });

// logo
var logo = svg.append("g");
logo.append("rect").attr("x", 814).attr("y", 17).attr("width", 69).attr("height", 38).attr("fill", "#002147");
logo.append("rect").attr("x", 814).attr("y", 52).attr("width", 69).attr("height", 3).attr("fill", "#ce261e");
logo.selectAll("text")
    .data(["Our World", "in Data"])
    .enter()
    .append("text")
    .attr("x", 848.5)
    .attr("y", function(d, i) { return 31 + i * 14.5; })
    .attr("text-anchor", "middle")
    .attr("fill", "#fff")
    .style("font-size", "12px")
    .style("font-weight", 700)
    .text(function(d) { return d; });

// legend
var legendScale = d3.scaleLinear()
    .domain([0, 1])
    .range([176, 795]);

var legend = svg.append("g");

legend.append("rect")
    .attr("x", 104).attr("y", 569)
    .attr("width", 52).attr("height", 12)
    .attr("fill", "url(#hatch)")
    .attr("stroke", "#999")
    .attr("stroke-width", 0.5);

legend.append("text")
    .attr("x", 130).attr("y", 563)
    .attr("text-anchor", "middle")
    .style("font-size", "14px")
    .attr("fill", "#5b5b5b")
    .text("No data");

legend.selectAll(".bin")
    .data(binColors)
    .enter()
    .append("rect")
    .attr("class", "bin")
    .attr("x", function(d, i) { return legendScale(legendTicks[i]); })
    .attr("y", 569)
    .attr("width", function(d, i) { return legendScale(legendTicks[i + 1]) - legendScale(legendTicks[i]); })
    .attr("height", 12)
    .attr("fill", function(d) { return d; })
    .attr("stroke", "#999")
    .attr("stroke-width", 0.5);

var legendAxis = d3.axisTop(legendScale)
    .tickValues(legendTicks)
    .tickSize(0)
    .tickPadding(0)
    .tickFormat(function(d) { return d === 0 || d === 1 ? d : d3.format(".1f")(d); });

legend.append("g")
    .attr("transform", "translate(0,563)")
    .call(legendAxis)
    .call(function(g) { g.select(".domain").remove(); })
    .call(function(g) {
        g.selectAll("text")
            .style("font-family", "Lato")
            .style("font-size", "14px")
            .attr("fill", "#5b5b5b");
    });

// footer
var source = svg.append("text")
    .attr("x", 17)
    .attr("y", 615)
    .style("font-size", "13.8px")
    .attr("fill", "#858585");
source.append("tspan").style("font-weight", 700).text("Data source:");
source.append("tspan").text(" V-Dem (2025)");

svg.append("text")
    .attr("x", 883)
    .attr("y", 615)
    .attr("text-anchor", "end")
    .style("font-size", "13.8px")
    .attr("fill", "#858585")
    .text("OurWorldinData.org/women-rights | CC BY");

svg.append("line")
    .attr("x1", 17).attr("x2", 883)
    .attr("y1", 635).attr("y2", 635)
    .attr("stroke", "#e7e7e7");

var notes = svg.selectAll(".note")
    .data(footnoteLines)
    .enter()
    .append("text")
    .attr("class", "note")
    .attr("x", 17)
    .attr("y", function(d, i) { return 665 + i * 15.5; })
    .style("font-size", "13.1px")
    .attr("fill", "#858585");

notes.filter(function(d, i) { return i === 0; })
    .append("tspan")
    .style("font-weight", 700)
    .text("1. V-Dem: ");

notes.append("tspan")
    .text(function(d) { return d; });
</script>
</body>
</html>
